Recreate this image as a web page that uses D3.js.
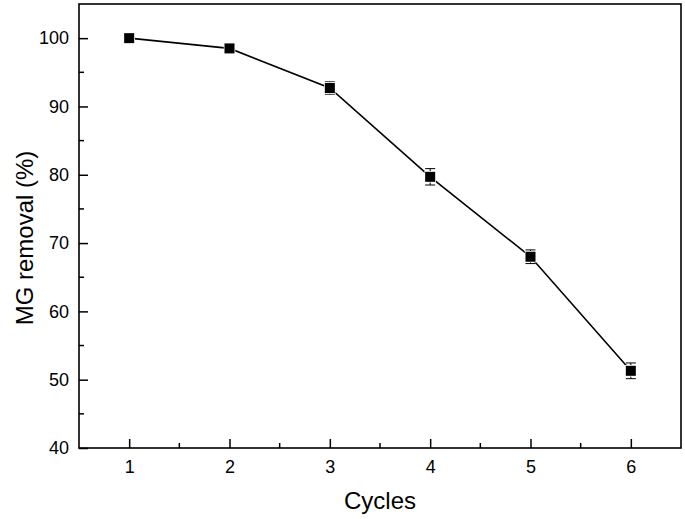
<!DOCTYPE html>
<html><head><meta charset="utf-8">
<script src="https://cdn.jsdelivr.net/npm/d3@7"></script>
<style>body{margin:0;background:#fff}svg{display:block}text{font-family:"Liberation Sans",Arial,sans-serif;fill:#000}</style>
</head><body>
<svg id="c" width="685" height="519"></svg>
<script>
const cycles = [1, 2, 3, 4, 5, 6];
const removal = [100, 98.5, 92.7, 79.7, 68.0, 51.3];
const errors = [0.2, 0.6, 0.9, 1.2, 1.0, 1.15];
const xTicks = [1, 2, 3, 4, 5, 6];
const yTicks = [40, 50, 60, 70, 80, 90, 100];
const xLabel = "Cycles";
const yLabel = "MG removal (%)";

const svg = d3.select("#c");
const m = {l: 79, r: 681, t: 4, b: 448};
const x = d3.scaleLinear().domain([0.5, 6.5]).range([m.l, m.r]);
const y = d3.scaleLinear().domain([40, 105]).range([m.b, m.t]);

// frame
svg.append("rect").attr("x", m.l).attr("y", m.t).attr("width", m.r - m.l).attr("height", m.b - m.t)
  .attr("fill", "none").attr("stroke", "#000").attr("stroke-width", 1.6);

// x axis
const xa = svg.append("g").attr("transform", `translate(0,${m.b})`)
  .call(d3.axisBottom(x).tickValues(xTicks).tickSizeInner(-9).tickSizeOuter(0).tickPadding(12).tickFormat(d3.format("d")));
xa.select(".domain").remove();
xa.selectAll("line").attr("stroke-width", 1.5);
xa.selectAll("text").attr("font-size", 18).attr("dy", "0.71em");
const xMinor = d3.range(1.5, 6.5, 1);
svg.append("g").selectAll("line").data(xMinor).join("line")
  .attr("x1", d => x(d)).attr("x2", d => x(d)).attr("y1", m.b).attr("y2", m.b - 5)
  .attr("stroke", "#000").attr("stroke-width", 1.5);

// y axis
const ya = svg.append("g").attr("transform", `translate(${m.l},0)`)
  .call(d3.axisLeft(y).tickValues(yTicks).tickSizeInner(-9).tickSizeOuter(0).tickPadding(10).tickFormat(d3.format("d")));
ya.select(".domain").remove();
ya.selectAll("line").attr("stroke-width", 1.5);
ya.selectAll("text").attr("font-size", 18);
const yMinor = d3.range(45, 105, 10);
svg.append("g").selectAll("line").data(yMinor).join("line")
  .attr("x1", m.l).attr("x2", m.l + 5).attr("y1", d => y(d)).attr("y2", d => y(d))
  .attr("stroke", "#000").attr("stroke-width", 1.5);

// data
const pts = cycles.map((c, i) => ({c, v: removal[i], e: errors[i]}));
svg.append("path").datum(pts)
  .attr("d", d3.line().x(d => x(d.c)).y(d => y(d.v)))
  .attr("fill", "none").attr("stroke", "#000").attr("stroke-width", 1.6);

const eb = svg.append("g").attr("stroke", "#000").attr("stroke-width", 1);
pts.forEach(d => {
  eb.append("line").attr("x1", x(d.c)).attr("x2", x(d.c)).attr("y1", y(d.v - d.e)).attr("y2", y(d.v + d.e));
  [d.v - d.e, d.v + d.e].forEach(v => eb.append("line")
    .attr("x1", x(d.c) - 5).attr("x2", x(d.c) + 5).attr("y1", y(v)).attr("y2", y(v)));
});

svg.append("g").selectAll("rect").data(pts).join("rect")
  .attr("x", d => x(d.c) - 5).attr("y", d => y(d.v) - 5).attr("width", 10).attr("height", 10)
  .attr("fill", "#000").attr("stroke", "#fff").attr("stroke-width", 1.5).attr("paint-order", "stroke");

// labels
svg.append("text").attr("x", (m.l + m.r) / 2).attr("y", 509).attr("text-anchor", "middle")
  .attr("font-size", 24).text(xLabel);
svg.append("text").attr("transform", `translate(33,238) rotate(-90)`).attr("text-anchor", "middle")
  .attr("font-size", 24).text(yLabel);
</script>
</body></html>
